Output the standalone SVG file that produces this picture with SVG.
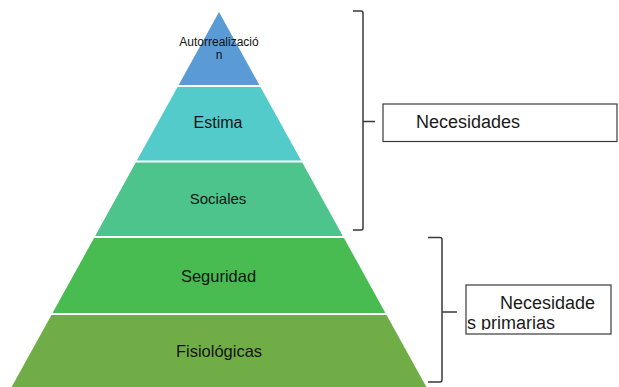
<svg xmlns="http://www.w3.org/2000/svg" width="619" height="387" viewBox="0 0 619 387">
<style>
.lbl{font-family:"Liberation Sans",Arial,sans-serif;fill:#141414;text-anchor:middle}
.br{fill:none;stroke:#3a3a3a;stroke-width:1.5}
.box{fill:#fff;stroke:#3a3a3a;stroke-width:1.2}
.bt{font-family:"Liberation Sans",Arial,sans-serif;fill:#1a1a1a;font-size:18px}
.sep{stroke:#fff;stroke-width:2}
</style>
<defs>
<clipPath id="c2"><rect x="466" y="285" width="145" height="45"/></clipPath>
</defs>
<rect width="619" height="387" fill="#fff"/>
<g id="autorrealizacion">
<polygon points="219,12 259.9,86 178.1,86" fill="#5B9BD5"/>
<text class="lbl" x="219" y="45.5" font-size="12">Autorrealizació</text>
<text class="lbl" x="219" y="59" font-size="12">n</text>
</g>
<g id="estima">
<polygon points="178.1,86 259.9,86 301.7,161.5 136.3,161.5" fill="#53CBCB"/>
<text class="lbl" x="218" y="128" font-size="16">Estima</text>
</g>
<g id="sociales">
<polygon points="136.3,161.5 301.7,161.5 343.4,237 94.6,237" fill="#4DC48B"/>
<text class="lbl" x="218" y="204" font-size="15">Sociales</text>
</g>
<g id="seguridad">
<polygon points="94.6,237 343.4,237 386,314 52,314" fill="#48BC51"/>
<text class="lbl" x="218.5" y="282" font-size="16.5">Seguridad</text>
</g>
<g id="fisiologicas">
<polygon points="52,314 386,314 426.4,387 11.6,387" fill="#70AD47"/>
<text class="lbl" x="219" y="357" font-size="16.5">Fisiológicas</text>
</g>
<g id="separators">
<line class="sep" x1="170" y1="86" x2="268" y2="86"/>
<line class="sep" x1="130" y1="161.5" x2="308" y2="161.5"/>
<line class="sep" x1="88" y1="237" x2="350" y2="237"/>
<line class="sep" x1="46" y1="314" x2="392" y2="314"/>
</g>
<g id="connectors">
<path class="br" d="M353,11 H361 Q363,11 363,13 V228 Q363,230 361,230 H353 M363,121.5 H375"/>
<path class="br" d="M428,237.5 H440 Q442,237.5 442,239.5 V380 Q442,382 440,382 H428 M442,312 H457"/>
</g>
<g id="necesidades">
<rect class="box" x="383" y="104" width="234" height="37.5"/>
<text class="bt" x="416" y="127.5">Necesidades</text>
</g>
<g id="necesidades-primarias">
<rect class="box" x="466" y="285" width="145" height="49"/>
<g clip-path="url(#c2)">
<text class="bt" x="500" y="309">Necesidade</text>
<text class="bt" x="467" y="328.5">s primarias</text>
</g>
</g>
</svg>
